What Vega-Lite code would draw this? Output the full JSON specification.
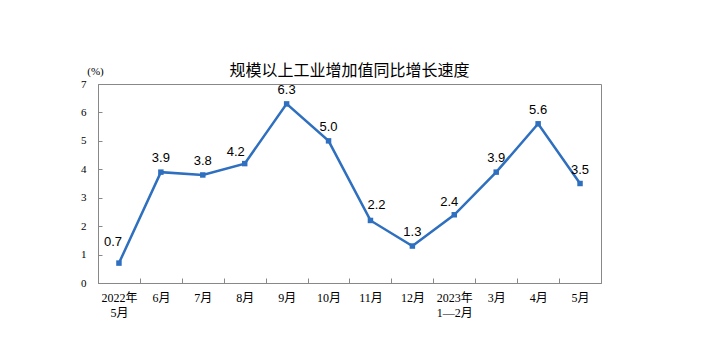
{
  "$schema": "https://vega.github.io/schema/vega-lite/v6.json",
  "width": 503,
  "height": 199,
  "autosize": {"type": "none"},
  "padding": {"left": 98, "top": 84, "right": 102, "bottom": 77},
  "background": "white",
  "title": {
    "text": "规模以上工业增加值同比增长速度",
    "font": "Noto Sans CJK SC",
    "fontSize": 16,
    "fontWeight": "normal",
    "color": "#000000",
    "anchor": "middle",
    "baseline": "middle",
    "offset": -22
  },
  "data": {
    "values": [
      {"month": "2022年\n5月", "value": 0.7},
      {"month": "6月", "value": 3.9},
      {"month": "7月", "value": 3.8},
      {"month": "8月", "value": 4.2},
      {"month": "9月", "value": 6.3},
      {"month": "10月", "value": 5.0},
      {"month": "11月", "value": 2.2},
      {"month": "12月", "value": 1.3},
      {"month": "2023年\n1—2月", "value": 2.4},
      {"month": "3月", "value": 3.9},
      {"month": "4月", "value": 5.6},
      {"month": "5月", "value": 3.5}
    ]
  },
  "encoding": {
    "x": {
      "field": "month",
      "type": "nominal",
      "sort": null,
      "scale": {"paddingInner": 0, "paddingOuter": 0},
      "axis": {
        "title": null,
        "labelAngle": 0,
        "labelExpr": "split(datum.label, '\\n')",
        "labelFont": "Liberation Serif, Noto Sans CJK SC",
        "labelFontSize": 12,
        "labelColor": "#000000",
        "labelLineHeight": 15,
        "labelPadding": 14,
        "bandPosition": 0,
        "tickBand": "extent",
        "tickSize": -5,
        "tickColor": "#888888",
        "domainColor": "#888888",
        "grid": false
      }
    },
    "y": {
      "field": "value",
      "type": "quantitative",
      "scale": {"domain": [0, 7], "nice": false},
      "axis": {
        "title": "(%)",
        "titleAngle": 0,
        "titleX": -3,
        "titleY": -13,
        "titleAlign": "center",
        "titleBaseline": "middle",
        "titleFont": "Liberation Serif",
        "titleFontSize": 11,
        "titleFontWeight": "normal",
        "titleColor": "#000000",
        "values": [0, 1, 2, 3, 4, 5, 6, 7],
        "labelFont": "Liberation Serif",
        "labelFontSize": 11,
        "labelColor": "#000000",
        "labelPadding": 16,
        "tickSize": -4,
        "tickColor": "#888888",
        "domainColor": "#888888",
        "grid": false
      }
    }
  },
  "layer": [
    {
      "mark": {"type": "line", "color": "#2E6FBF", "strokeWidth": 2.5}
    },
    {
      "mark": {"type": "point", "shape": "square", "filled": true, "color": "#2E6FBF", "size": 30, "opacity": 1}
    },
    {
      "transform": [{"filter": "datum.value != 0.7 && datum.value != 4.2 && datum.value != 2.2 && datum.value != 2.4"}],
      "mark": {"type": "text", "dy": -14, "font": "Liberation Sans", "fontSize": 13, "color": "#000000", "baseline": "middle"},
      "encoding": {"text": {"field": "value", "type": "quantitative", "format": ".1f"}}
    },
    {
      "transform": [{"filter": "datum.value == 0.7"}],
      "mark": {"type": "text", "dy": -21, "dx": -6, "font": "Liberation Sans", "fontSize": 13, "color": "#000000", "baseline": "middle"},
      "encoding": {"text": {"field": "value", "type": "quantitative", "format": ".1f"}}
    },
    {
      "transform": [{"filter": "datum.value == 4.2"}],
      "mark": {"type": "text", "dy": -12, "dx": -9, "font": "Liberation Sans", "fontSize": 13, "color": "#000000", "baseline": "middle"},
      "encoding": {"text": {"field": "value", "type": "quantitative", "format": ".1f"}}
    },
    {
      "transform": [{"filter": "datum.value == 2.2"}],
      "mark": {"type": "text", "dy": -15, "dx": 6, "font": "Liberation Sans", "fontSize": 13, "color": "#000000", "baseline": "middle"},
      "encoding": {"text": {"field": "value", "type": "quantitative", "format": ".1f"}}
    },
    {
      "transform": [{"filter": "datum.value == 2.4"}],
      "mark": {"type": "text", "dy": -13, "dx": -5, "font": "Liberation Sans", "fontSize": 13, "color": "#000000", "baseline": "middle"},
      "encoding": {"text": {"field": "value", "type": "quantitative", "format": ".1f"}}
    }
  ],
  "config": {
    "view": {"stroke": "#888888", "strokeWidth": 1}
  }
}
